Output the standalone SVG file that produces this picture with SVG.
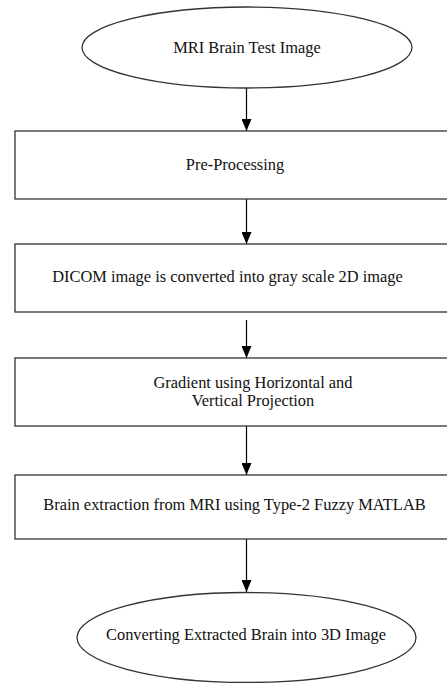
<svg xmlns="http://www.w3.org/2000/svg" width="447" height="683" viewBox="0 0 447 683">
<defs>
<style>
.n{fill:#fff;stroke:#333;stroke-width:1.3}
.t{font-family:'Liberation Serif','Times New Roman',serif;font-size:16.4px;fill:#111;text-anchor:middle}
.c{stroke:#000;stroke-width:1.2;fill:none}
</style>
<marker id="arr" viewBox="0 0 12 10" refX="12" refY="5" markerWidth="12" markerHeight="10" markerUnits="userSpaceOnUse" orient="auto">
<path d="M0,0 L12,5 L0,10 Z" fill="#000"/>
</marker>
</defs>
<rect width="447" height="683" fill="#fff"/>
<g id="connectors">
<line class="c" x1="246.5" y1="88" x2="246.5" y2="131" marker-end="url(#arr)"/>
<line class="c" x1="246.5" y1="199" x2="246.5" y2="244" marker-end="url(#arr)"/>
<line class="c" x1="246.5" y1="320" x2="246.5" y2="358" marker-end="url(#arr)"/>
<line class="c" x1="246.5" y1="426" x2="246.5" y2="475" marker-end="url(#arr)"/>
<line class="c" x1="246.5" y1="539" x2="246.5" y2="592" marker-end="url(#arr)"/>
</g>
<g id="n1"><ellipse class="n" cx="247" cy="47.5" rx="165" ry="40.5"/><text class="t" x="247" y="52.5">MRI Brain Test Image</text></g>
<g id="n2"><rect class="n" x="15" y="131" width="460" height="68"/><text class="t" x="235" y="170">Pre-Processing</text></g>
<g id="n3"><rect class="n" x="15" y="244" width="460" height="68"/><text class="t" x="227.5" y="282">DICOM image is converted into gray scale 2D image</text></g>
<g id="n4"><rect class="n" x="15" y="358" width="460" height="68"/><text class="t" x="253" y="388">Gradient using Horizontal and</text><text class="t" x="253" y="406">Vertical Projection</text></g>
<g id="n5"><rect class="n" x="15" y="475" width="460" height="64"/><text class="t" x="234.5" y="510">Brain extraction from MRI using Type-2 Fuzzy MATLAB</text></g>
<g id="n6"><ellipse class="n" cx="246.5" cy="637.5" rx="169.5" ry="45"/><text class="t" x="246" y="640">Converting Extracted Brain into 3D Image</text></g>
</svg>
